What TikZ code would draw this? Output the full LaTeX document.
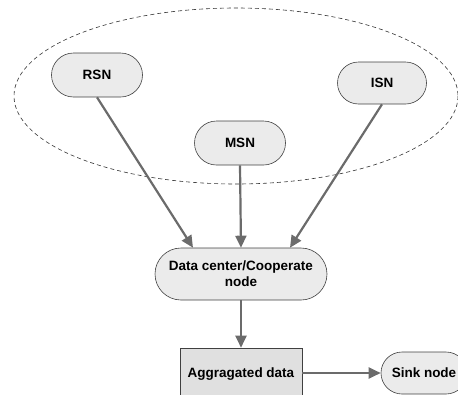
\documentclass[tikz,border=0pt]{standalone}
\usepackage{fontspec}
\setmainfont{Liberation Sans}
\usetikzlibrary{arrows.meta, positioning, shapes.misc}

\tikzset{
    pill/.style={rounded rectangle, draw=black!75, fill=black!8, line width=0.6pt,
        font=\bfseries\fontsize{13.5}{16}\selectfont, align=center, inner sep=0pt},
    flow/.style={draw=black!58, line width=2.2pt,
        -{Triangle[length=12pt, width=11pt]}},
}

\begin{document}
\begin{tikzpicture}[x=1pt, y=-1pt]
\useasboundingbox (0,0) rectangle (458,394);
\clip (0,0) rectangle (458,394);

% dashed region round the sensor nodes
\draw[black!80, line width=0.6pt, dash pattern=on 4pt off 3pt] (236,96) ellipse [x radius=222, y radius=88];

\node[pill, minimum width=91pt, minimum height=44pt] (rsn) at (97,75) {RSN};
\node[pill, minimum width=91pt, minimum height=44pt] (msn) at (240,143) {MSN};
\node[pill, minimum width=89pt, minimum height=42pt] (isn) at (382,83) {ISN};

\node[pill, minimum width=172pt, minimum height=52pt] (dc) at (241,274)
    {Data center/Cooperate\\node};

\node[draw=black!75, fill=black!12, line width=0.6pt, font=\bfseries\fontsize{13.5}{16}\selectfont,
    minimum width=122pt, minimum height=52pt, inner sep=0pt] (agg) at (241,374) {Aggragated data};
\node[pill, minimum width=86pt, minimum height=42pt] (sink) at (424,373) {Sink node};

\foreach \src/\dx in {rsn/-48, msn/0, isn/49}
{
    \draw[flow] (\src.south) -- ([xshift=\dx pt]dc.north);
}
\draw[flow] (dc.south) -- (agg.north);
\draw[flow] (agg.east |- sink.west) -- (sink.west);
\end{tikzpicture}
\end{document}
